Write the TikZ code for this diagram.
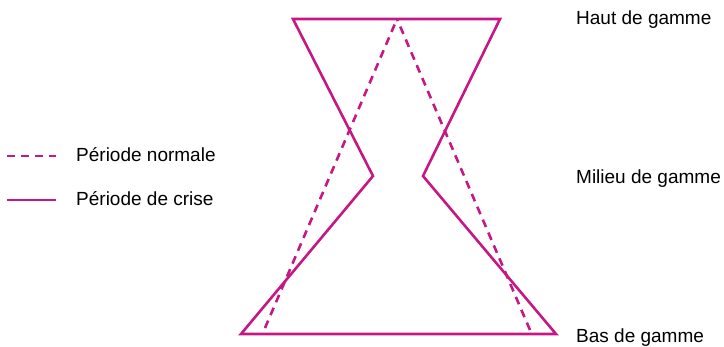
\documentclass[tikz,border=0pt]{standalone}
\usepackage{fontspec}
\setmainfont{Liberation Sans}
\definecolor{mag}{RGB}{198,24,132}
\begin{document}
\begin{tikzpicture}[x=1pt,y=-1pt,
  crise/.style={draw=mag,line width=2.6pt,line join=miter},
  normale/.style={draw=mag,line width=2.6pt,dash pattern=on 8pt off 6pt},
  lbl/.style={anchor=base west,inner sep=0pt,font=\fontsize{19pt}{22pt}\selectfont}]
\useasboundingbox (0,0) rectangle (724,346);
% solid shape
\coordinate (tl) at (293,19);
\coordinate (tr) at (500,19);
\coordinate (ml) at (373,176);
\coordinate (mr) at (423,176);
\coordinate (bl) at (241,334);
\coordinate (br) at (556,334);
\draw[crise] (tl) -- (tr) -- (mr) -- (br) -- (bl) -- (ml) -- cycle;
% dashed shape
\coordinate (apex) at (397,19);
\coordinate (dl) at (265,328);
\coordinate (dr) at (530,330);
\draw[normale] (dl) -- (apex);
\draw[normale] (dr) -- (apex);
% labels
\node[lbl] (haut) at (576,24) {Haut de gamme};
\node[lbl] (milieu) at (576,183) {Milieu de gamme};
\node[lbl] (bas) at (576,342) {Bas de gamme};
% legend
\coordinate (l1a) at (7,156);
\coordinate (l1b) at (56,156);
\coordinate (l2a) at (7,200);
\coordinate (l2b) at (56,200);
\draw[normale] (l1a) -- (l1b);
\draw[crise] (l2a) -- (l2b);
\node[lbl] (leg1) at (76,161) {Période normale};
\node[lbl] (leg2) at (76,205) {Période de crise};
\end{tikzpicture}
\end{document}
